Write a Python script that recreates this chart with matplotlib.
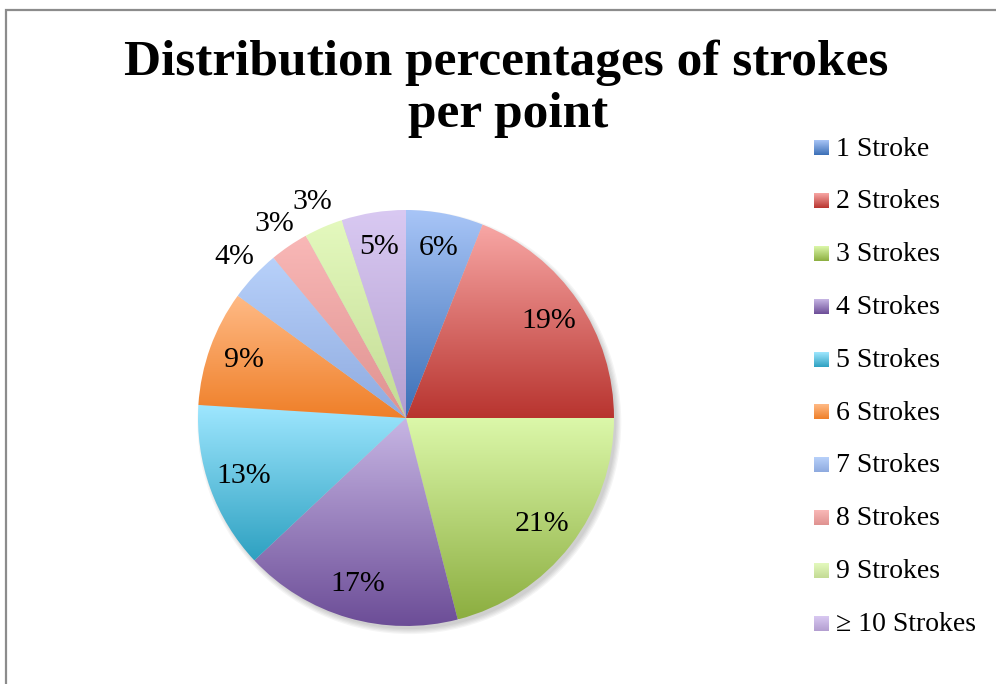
import numpy as np
import matplotlib.pyplot as plt
from matplotlib.patches import Wedge, Circle
from matplotlib.colors import to_rgb

categories = ['1 Stroke', '2 Strokes', '3 Strokes', '4 Strokes', '5 Strokes',
              '6 Strokes', '7 Strokes', '8 Strokes', '9 Strokes', '\u2265 10 Strokes']
shares = [6, 19, 21, 17, 13, 9, 4, 3, 3, 5]
outside = [False, False, False, False, False, False, True, True, True, False]

# light (top) and dark (bottom) ends of each slice gradient
top_colors = ['#a8c5f7', '#f8a7a5', '#dcf8aa', '#c7b6e4', '#9fe7ff',
              '#ffba86', '#b8d1fa', '#f9b8b7', '#e4f9be', '#d9c9f2']
bottom_colors = ['#3b6fb6', '#b8342f', '#8cae40', '#6c4d97', '#2ea1c1',
                 '#ef7f28', '#8eaadf', '#df9290', '#c3db94', '#b39ed0']

plt.rcParams['font.family'] = ['Liberation Serif', 'DejaVu Serif']

W, H = 996, 684
fig = plt.figure(figsize=(W / 100, H / 100), dpi=100)


def gradient(top, bottom, n=256):
    t = np.linspace(0, 1, n).reshape(-1, 1, 1)
    a = np.array(to_rgb(top)).reshape(1, 1, 3)
    b = np.array(to_rgb(bottom)).reshape(1, 1, 3)
    return a * (1 - t) + b * t


# backdrop axes in pixel units: frame, title, legend
bg = fig.add_axes([0, 0, 1, 1])
bg.plot([6, 6, W + 5], [H + 5, 10, 10], color='#8c8c8c', lw=1.6,
        solid_joinstyle='miter')

bg.text(506, 63, 'Distribution percentages of strokes', ha='center', va='center',
        fontsize=37, fontweight='bold')
bg.text(508, 115, 'per point', ha='center', va='center',
        fontsize=37, fontweight='bold')

for i, name in enumerate(categories):
    y = 148 + i * 52.8
    bg.imshow(gradient(top_colors[i], bottom_colors[i]), origin='upper',
              extent=(814, 829, y + 7.5, y - 7.5), aspect='auto', interpolation='bilinear')
    bg.text(836, y + 1, name, ha='left', va='center', fontsize=20)

bg.set_xlim(0, W)
bg.set_ylim(H, 0)
bg.axis('off')

# pie axes: 520 px square centred on the pie
cx, cy, half = 406, 418, 260
ax = fig.add_axes([(cx - half) / W, (H - cy - half) / H, 2 * half / W, 2 * half / H])
lim = 1.25
ax.set_xlim(-lim, lim)
ax.set_ylim(-lim, lim)
ax.axis('off')

# soft drop shadow, offset down and right
for k in range(5):
    ax.add_patch(Circle((0.016, -0.02), 0.995 + k * 0.006, facecolor='#000000',
                        edgecolor='none', alpha=0.04, zorder=0))

total = float(sum(shares))
start = 0.0
for i, v in enumerate(shares):
    end = start + v
    theta2 = 90 - start / total * 360
    theta1 = 90 - end / total * 360
    w = Wedge((0, 0), 1.0, theta1, theta2, facecolor='none', edgecolor='none', zorder=1)
    ax.add_patch(w)
    ang = np.radians(np.linspace(theta1, theta2, 200))
    xs = np.concatenate([[0], np.cos(ang)])
    ys = np.concatenate([[0], np.sin(ang)])
    im = ax.imshow(gradient(top_colors[i], bottom_colors[i]), origin='upper',
                   extent=(xs.min(), xs.max(), ys.min(), ys.max()),
                   aspect='auto', interpolation='bilinear', zorder=1)
    im.set_clip_path(w)

    mid = np.radians((theta1 + theta2) / 2)
    r = 1.13 if outside[i] else 0.83
    ax.text(r * np.cos(mid), r * np.sin(mid), f'{v}%', ha='center', va='center',
            fontsize=21.5, zorder=3, clip_on=False)
    start = end

ax.set_xlim(-lim, lim)
ax.set_ylim(-lim, lim)

fig.savefig('out.png', dpi=100)
